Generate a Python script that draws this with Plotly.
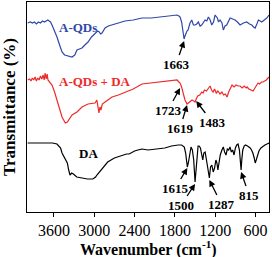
import plotly.graph_objects as go

# ---- data (transmittance in arbitrary offset units) ----
wn_aqd = [3990, 3950, 3920, 3890, 3860, 3830, 3800, 3770, 3740, 3710, 3690, 3670, 3650, 3628, 3590, 3554,
          3515, 3479, 3440, 3400, 3360, 3330, 3290, 3256, 3220, 3182, 3140, 3092, 3040, 2988, 2950, 2925,
          2905, 2884, 2860, 2839, 2790, 2735, 2640, 2542, 2420, 2289, 2150, 2021, 1900, 1800, 1768, 1740,
          1723, 1700, 1685, 1670, 1663, 1650, 1635, 1620, 1604, 1590, 1575, 1549, 1525, 1500, 1475, 1451,
          1425, 1401, 1375, 1351, 1325, 1302, 1275, 1252, 1225, 1202, 1168, 1150, 1128, 1100, 1079, 1055,
          1029, 1005, 979, 940, 905, 870, 830, 780, 731, 690, 656, 630, 607, 580, 558, 530, 508, 470, 433, 400]
t_aqd = [189, 190, 189, 190, 188, 190, 189, 191, 190, 191, 192, 191, 190, 187, 181, 175,
         167, 160, 157, 156, 155, 155, 157, 162, 163, 164, 167, 170, 175, 179, 181, 180,
         178, 179, 182, 184, 186, 187, 189, 191, 192, 194, 194, 195, 196, 197, 197, 196,
         195, 190, 184, 177, 173, 176, 179, 181, 182, 186, 189, 192, 187, 187, 188, 190,
         186, 187, 190, 192, 191, 195, 192, 187, 190, 197, 194, 190, 192, 189, 182, 186,
         187, 190, 194, 193, 192, 190, 187, 189, 190, 188, 187, 185, 184, 188, 192, 191, 190, 192, 194, 197]

wn_mix = [3990, 3960, 3940, 3920, 3900, 3880, 3860, 3840, 3820, 3800, 3780, 3760, 3745, 3730, 3715, 3700,
          3688, 3660, 3628, 3590, 3554, 3515, 3479, 3430, 3400, 3330, 3256, 3182, 3092, 2988, 2960, 2930,
          2915, 2900, 2880, 2839, 2735, 2640, 2542, 2420, 2289, 2150, 2021, 1900, 1800, 1768, 1740, 1723,
          1700, 1680, 1650, 1619, 1600, 1570, 1545, 1520, 1500, 1483, 1460, 1430, 1400, 1381, 1360, 1330,
          1300, 1277, 1255, 1232, 1210, 1185, 1160, 1128, 1100, 1075, 1050, 1024, 1000, 975, 950, 920,
          890, 860, 830, 800, 770, 740, 726, 700, 670, 637, 610, 585, 563, 540, 510, 488, 460, 440, 414, 400]
t_mix = [132, 133, 131, 134, 132, 135, 131, 134, 132, 136, 133, 137, 132, 139, 133, 138,
         132, 130, 127, 120, 112, 103, 95, 89, 90, 97, 100, 105, 108, 109, 112, 99,
         105, 102, 108, 110, 115, 117, 120, 123, 128, 129, 130, 131, 132, 132, 130, 129,
         125, 119, 112, 108, 109, 111, 112, 111, 110, 113, 116, 117, 120, 119, 122, 121,
         124, 126, 122, 120, 123, 119, 121, 118, 120, 117, 118, 115, 120, 124, 127, 125,
         127, 126, 126, 124, 126, 124, 125, 123, 122, 121, 124, 127, 129, 128, 130, 130, 131, 132, 134, 135]

wn_da = [3990, 3900, 3800, 3700, 3620, 3554, 3500, 3479, 3430, 3400, 3380, 3360, 3335, 3310, 3260, 3182,
         3100, 3020, 2980, 2960, 2900, 2884, 2800, 2700, 2650, 2600, 2560, 2520, 2480, 2400, 2350, 2289,
         2200, 2100, 1950, 1850, 1790, 1750, 1700, 1660, 1640, 1625, 1615, 1600, 1580, 1560, 1540, 1520,
         1500, 1485, 1470, 1455, 1440, 1420, 1400, 1385, 1370, 1350, 1330, 1300, 1287, 1270, 1250, 1230,
         1210, 1190, 1175, 1160, 1145, 1125, 1100, 1080, 1060, 1040, 1020, 1000, 980, 960, 940, 920,
         900, 880, 860, 840, 825, 815, 805, 790, 770, 750, 720, 700, 680, 660, 640, 620, 605, 590,
         570, 550, 520, 490, 460, 430, 400]
t_da = [69, 69, 68.5, 69, 69, 68, 64, 59, 52, 49, 42, 37, 39, 38, 35, 34,
        33, 33, 35, 37, 42, 44, 50, 54, 55, 56, 57, 58, 58, 61, 62, 63,
        62, 63, 64, 66, 67, 67, 67, 65, 59, 52, 45, 49, 60, 65, 62, 52,
        30, 42, 59, 66, 66, 64, 57, 52, 59, 60, 52, 40, 34, 45, 47, 40,
        44, 52, 49, 42, 49, 57, 62, 65, 60, 57, 63, 62, 65, 60, 62, 57,
        64, 67, 68, 62, 50, 42, 52, 62, 66, 67, 66, 65, 64, 62, 59, 54, 49, 52,
        57, 61, 64, 66, 67, 68, 69]

x_ticks = [3600, 3000, 2400, 1800, 1200, 600]

# peak labels: wavenumber, tip level, pixel offset of label text
peak_labels = ["1663", "1723", "1619", "1483", "1615", "1500", "1287", "815"]
peak_wn = [1663, 1723, 1619, 1483, 1615, 1500, 1287, 815]
peak_tip = [171, 124, 107, 111, 44, 28, 32, 40]
peak_ax = [-8, -12, -7, 16, -12, -14, 12, 8]
peak_ay = [23, 22, 23, 21, 20, 21, 24, 23]

BLUE = "#2f47a8"
RED = "#ee2a2a"
FONT = "Liberation Serif"

fig = go.Figure()
fig.add_trace(go.Scatter(x=wn_aqd, y=t_aqd, mode="lines", line=dict(color=BLUE, width=1.2), showlegend=False))
fig.add_trace(go.Scatter(x=wn_mix, y=t_mix, mode="lines", line=dict(color=RED, width=1.2), showlegend=False))
fig.add_trace(go.Scatter(x=wn_da, y=t_da, mode="lines", line=dict(color="black", width=1.2), showlegend=False))

annotations = []
for lab, x, y, ax, ay in zip(peak_labels, peak_wn, peak_tip, peak_ax, peak_ay):
    annotations.append(dict(x=x, y=y, xref="x", yref="y", text=f"<b>{lab}</b>", showarrow=True,
                            ax=ax, ay=ay, arrowhead=2, arrowsize=1, arrowwidth=1.3, arrowcolor="black",
                            font=dict(family=FONT, size=13, color="black")))

series_labels = [("A-QDs", 3241, 185, BLUE), ("A-QDs + DA", 2988, 131, RED), ("DA", 3092, 59, "black")]
for txt, x, y, c in series_labels:
    annotations.append(dict(x=x, y=y, xref="x", yref="y", text=f"<b>{txt}</b>", showarrow=False,
                            font=dict(family=FONT, size=13, color=c)))

# x-axis title as annotation for exact placement
annotations.append(dict(x=0.5, y=-0.172, xref="paper", yref="paper", xanchor="center", yanchor="middle",
                        text="<b>Wavenumber (cm<sup>-1</sup>)</b>", showarrow=False,
                        font=dict(family=FONT, size=16, color="black")))

fig.update_layout(
    width=272, height=257,
    margin=dict(l=27, r=3, t=2, b=45),
    paper_bgcolor="white", plot_bgcolor="white",
    annotations=annotations,
    xaxis=dict(range=[4000, 400], tickvals=x_ticks, ticktext=[str(v) for v in x_ticks],
               showgrid=False, zeroline=False, showline=True, linecolor="black", linewidth=1.3,
               mirror=True, ticks="outside", ticklen=4, tickwidth=1.3, tickcolor="black",
               automargin=False,
               tickfont=dict(family=FONT, size=16, color="black")),
    yaxis=dict(range=[0, 210], showticklabels=False, ticks="", showgrid=False, zeroline=False,
               showline=True, linecolor="black", linewidth=1.3, mirror=True, automargin=False,
               title=dict(text="<b>Transmittance (%)</b>",
                          font=dict(family=FONT, size=17, color="black"))),
)

fig.write_html("out.html", config={"displayModeBar": False},
               post_script="document.body.style.margin='0';document.body.style.padding='0';")
